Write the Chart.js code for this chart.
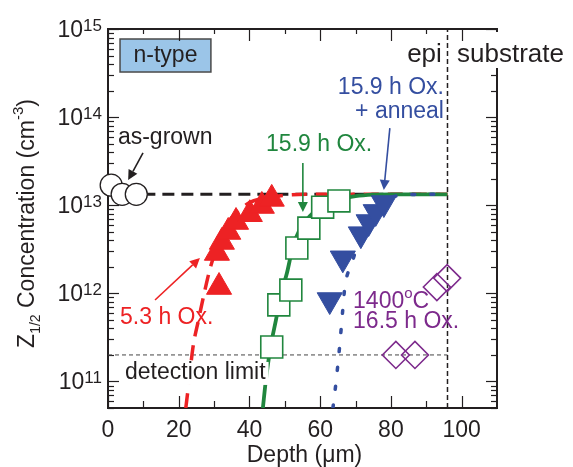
<!DOCTYPE html>
<html lang="en">
<head>
<meta charset="UTF-8">
<title>Z1/2 depth profiles</title>
<script src="https://cdn.jsdelivr.net/npm/chart.js"></script>
<style>
  html, body { margin: 0; padding: 0; background: #fff; }
  canvas { display: block; }
</style>
</head>
<body>
<canvas id="profileChart" width="573" height="467"></canvas>
<script>
// depth in um, Z1/2 concentration in cm^-3

// as-grown
const asGrownDepth = [0.9, 4.0, 8.0];
const asGrownConc = [1.69e13, 1.33e13, 1.33e13];
const asGrownFitDepth = [10, 96];
const asGrownFitConc = [1.33e13, 1.33e13];

// 5.3 h oxidation
const ox53Depth = [31.4, 30.8, 32.2, 34.0, 36.2, 40.1, 43.5, 46.3];
const ox53Conc = [1.18e12, 2.87e12, 3.83e12, 4.97e12, 6.45e12, 7.9e12, 9.8e12, 1.18e13];
const ox53FitDepth = [22.0, 22.9, 24.0, 25.6, 27.2, 29.0, 31.0, 33.0, 35.0, 37.5, 40.0, 44.0, 50.0, 56.0, 96.0];
const ox53FitConc = [5e10, 1e11, 2.4e11, 5e11, 1e12, 2e12, 3.5e12, 5.5e12, 7.3e12, 9e12, 1.07e13, 1.2e13, 1.3e13, 1.33e13, 1.33e13];

// 15.9 h oxidation
const ox159Depth = [46.3, 48.3, 51.7, 53.4, 56.8, 60.7, 65.3];
const ox159Conc = [2.46e11, 7.4e11, 1.09e12, 3.27e12, 5.5e12, 9.5e12, 1.12e13];
const ox159FitDepth = [43.8, 44.6, 46.0, 47.5, 49.0, 50.6, 52.3, 54.2, 57.0, 62.0, 66.0, 70.0, 75.0, 80.0, 96.0];
const ox159FitConc = [5e10, 1e11, 2.5e11, 5e11, 1e12, 1.7e12, 3.4e12, 5.3e12, 7.5e12, 1.03e13, 1.18e13, 1.27e13, 1.32e13, 1.33e13, 1.33e13];

// 15.9 h oxidation + anneal
const annDepth = [62.7, 66.4, 71.5, 73.7, 75.7, 78.0];
const annConc = [8.4e11, 2.5e12, 4.7e12, 6.45e12, 8.4e12, 1.06e13];
const annFitDepth = [63.6, 64.4, 65.5, 66.4, 67.0, 69.0, 71.2, 74.0, 76.0, 78.5, 81.0, 85.0, 96.0];
const annFitConc = [5e10, 9.2e10, 2.5e11, 6.6e11, 1.2e12, 2.2e12, 4.4e12, 7.5e12, 9.5e12, 1.15e13, 1.26e13, 1.32e13, 1.33e13];

// 1400 C, 16.5 h oxidation
const ox1400Depth = [93.0, 95.9, 81.4, 86.8];
const ox1400Conc = [1.18e12, 1.49e12, 2.0e11, 2.0e11];

// detection limit and epi/substrate interface
const detDepth = [0, 96];
const detConc = [2e11, 2e11];
const interfaceDepth = [96, 96];
const interfaceConc = [5e10, 1e15];

// axis ticks
const xTickValues = [0, 20, 40, 60, 80, 100];
const yTickExps = [11, 12, 13, 14, 15];

const ink = '#231f20';
const red = 'rgb(237,34,36)';
const green = 'rgb(32,134,62)';
const blue = 'rgb(52,78,160)';
const purple = 'rgb(125,42,140)';
const font = size => size + "px 'Liberation Sans', Arial, Helvetica, sans-serif";

function pts(xs, ys) {
  return xs.map((v, i) => ({ x: v, y: ys[i] }));
}

function curve(xs, ys, color, width, dash, order, cap) {
  return {
    data: pts(xs, ys), showLine: true, pointRadius: 0, pointHoverRadius: 0,
    borderColor: color, borderWidth: width, borderDash: dash,
    borderCapStyle: cap || 'butt', cubicInterpolationMode: 'monotone',
    fill: false, order: order
  };
}

function straight(xs, ys, color, width, dash, order) {
  return {
    data: pts(xs, ys), showLine: true, pointRadius: 0, pointHoverRadius: 0,
    borderColor: color, borderWidth: width, borderDash: dash, tension: 0,
    fill: false, order: order
  };
}

function markers(xs, ys, style, radius, fill, stroke, lw, order, rotation) {
  return {
    data: pts(xs, ys), showLine: false, pointStyle: style,
    pointRadius: radius, pointHoverRadius: radius,
    pointBackgroundColor: fill, pointBorderColor: stroke,
    pointBorderWidth: lw, pointRotation: rotation || 0,
    clip: false, order: order
  };
}

// text notes, positioned in data units
const notes = [
  { text: 'as-grown', x: 2.8, y: 5.9e13, color: ink, align: 'left' },
  { text: '5.3 h Ox.', x: 3.4, y: 5.25e11, color: red, align: 'left' },
  { text: '15.9 h Ox.', x: 44.7, y: 4.83e13, color: green, align: 'left' },
  { text: '15.9 h Ox.', x: 95.0, y: 2.14e14, color: blue, align: 'right' },
  { text: '+ anneal', x: 95.0, y: 1.14e14, color: blue, align: 'right' },
  { text: '16.5 h Ox.', x: 69.3, y: 4.73e11, color: purple, align: 'left' },
  { text: 'epi', x: 94.4, y: 5.07e14, color: ink, align: 'right', size: 26 }
];

const arrows = [
  { from: [9.9, 3.92e13], to: [5.7, 1.93e13], color: ink },
  { from: [13.3, 8.4e11], to: [26.0, 2.52e12], color: red },
  { from: [55.1, 3.01e13], to: [55.1, 8.37e12], color: green },
  { from: [79.7, 7.5e13], to: [78.0, 1.49e13], color: blue }
];

function drawRich(ctx, parts, x, y, align) {
  let w = 0;
  parts.forEach(p => { ctx.font = font(p[1]); w += ctx.measureText(p[0]).width; });
  let cx = align === 'right' ? x - w : align === 'center' ? x - w / 2 : x;
  parts.forEach(p => {
    ctx.font = font(p[1]);
    ctx.fillText(p[0], cx, y + (p[2] || 0));
    cx += ctx.measureText(p[0]).width;
  });
}

function drawArrow(ctx, x1, y1, x2, y2, color) {
  const ang = Math.atan2(y2 - y1, x2 - x1);
  const len = 10, half = 5;
  ctx.strokeStyle = color;
  ctx.fillStyle = color;
  ctx.lineWidth = 1.6;
  ctx.beginPath();
  ctx.moveTo(x1, y1);
  ctx.lineTo(x2 - Math.cos(ang) * len, y2 - Math.sin(ang) * len);
  ctx.stroke();
  ctx.beginPath();
  ctx.moveTo(x2, y2);
  ctx.lineTo(x2 - Math.cos(ang) * len - Math.sin(ang) * half, y2 - Math.sin(ang) * len + Math.cos(ang) * half);
  ctx.lineTo(x2 - Math.cos(ang) * len + Math.sin(ang) * half, y2 - Math.sin(ang) * len - Math.cos(ang) * half);
  ctx.closePath();
  ctx.fill();
}

function hline(ctx, x1, y1, x2, y2) {
  ctx.beginPath();
  ctx.moveTo(x1, y1);
  ctx.lineTo(x2, y2);
  ctx.stroke();
}

// frame and inward ticks go under the markers,
// labels and notes go on top
const decorations = {
  id: 'decorations',
  beforeDatasetsDraw(chart) {
    const { ctx, chartArea: a, scales: { x, y } } = chart;
    ctx.save();
    ctx.strokeStyle = ink;
    ctx.lineWidth = 2;
    ctx.strokeRect(a.left, a.top, a.right - a.left, a.bottom - a.top);

    ctx.lineWidth = 1.2;
    for (let e = 10; e <= 15; e++) {
      for (let m = 1; m <= 9; m++) {
        const v = m * Math.pow(10, e);
        if (v < y.min * 0.999 || v > y.max * 1.001) continue;
        const p = Math.round(y.getPixelForValue(v)) + 0.5;
        const len = m === 1 ? 11 : 6;
        hline(ctx, a.left, p, a.left + len, p);
        hline(ctx, a.right, p, a.right - len, p);
      }
    }
    for (let v = 0; v <= 100; v += 10) {
      const p = Math.round(x.getPixelForValue(v)) + 0.5;
      hline(ctx, p, a.bottom, p, a.bottom - (v % 20 === 0 ? 12 : 7));
    }
    ctx.restore();
  },
  afterDatasetsDraw(chart) {
    const { ctx, chartArea: a, scales: { x, y } } = chart;
    ctx.save();
    ctx.setLineDash([]);

    // tick labels
    ctx.fillStyle = ink;
    ctx.textBaseline = 'alphabetic';
    ctx.textAlign = 'left';
    xTickValues.forEach(v => {
      drawRich(ctx, [[String(v), 23, 0]], x.getPixelForValue(v), a.bottom + 29, 'center');
    });
    yTickExps.forEach(e => {
      const p = y.getPixelForValue(Math.pow(10, e));
      drawRich(ctx, [['10', 23, 0], [String(e), 17, -6]], a.left - 6, p + 8, 'right');
    });

    // axis titles
    drawRich(ctx, [['Depth (\u03bcm)', 23, 0]], (a.left + a.right) / 2 + 2, a.bottom + 54, 'center');
    ctx.save();
    ctx.translate(34, (a.top + a.bottom) / 2 + 5);
    ctx.rotate(-Math.PI / 2);
    drawRich(ctx, [['Z', 23, 0], ['1/2', 14, 6], [' Concentration (cm', 23, 0], ['-3', 15, -11], [')', 23, 0]], 0, 0, 'center');
    ctx.restore();

    // n-type box
    const bx1 = x.getPixelForValue(3.4), bx2 = x.getPixelForValue(29.1);
    const by1 = y.getPixelForValue(7.7e14), by2 = y.getPixelForValue(3.25e14);
    ctx.fillStyle = 'rgb(155,197,232)';
    ctx.fillRect(bx1, by1, bx2 - bx1, by2 - by1);
    ctx.strokeStyle = '#4a4a4a';
    ctx.lineWidth = 1.5;
    ctx.strokeRect(bx1, by1, bx2 - bx1, by2 - by1);
    ctx.fillStyle = ink;
    ctx.textBaseline = 'middle';
    ctx.textAlign = 'center';
    ctx.font = font(23);
    ctx.fillText('n-type', (bx1 + bx2) / 2, (by1 + by2) / 2);

    // detection limit label on white
    ctx.textAlign = 'left';
    const dlx = x.getPixelForValue(4.8), dly = y.getPixelForValue(1.25e11);
    const dlw = ctx.measureText('detection limit').width;
    ctx.fillStyle = '#fff';
    ctx.fillRect(dlx - 3, dly - 11, dlw + 6, 23);
    ctx.fillStyle = ink;
    ctx.fillText('detection limit', dlx, dly);

    // substrate label on white, then the top ticks over it
    ctx.font = font(26);
    const sx = x.getPixelForValue(98.7), sy = y.getPixelForValue(5.07e14);
    ctx.fillStyle = '#fff';
    ctx.fillRect(sx - 3, sy - 23, chart.width - sx + 3, 36);
    ctx.fillStyle = ink;
    ctx.fillText('substrate', sx, sy);
    ctx.strokeStyle = ink;
    ctx.lineWidth = 1.2;
    for (let v = 0; v <= 100; v += 10) {
      const p = Math.round(x.getPixelForValue(v)) + 0.5;
      hline(ctx, p, a.top, p, a.top + (v % 20 === 0 ? 12 : 5));
    }

    // other notes
    notes.forEach(n => {
      ctx.font = font(n.size || 23);
      ctx.fillStyle = n.color;
      ctx.textAlign = n.align;
      ctx.fillText(n.text, x.getPixelForValue(n.x), y.getPixelForValue(n.y));
    });
    ctx.textAlign = 'left';
    ctx.textBaseline = 'alphabetic';
    ctx.fillStyle = purple;
    drawRich(ctx, [['1400', 23, 0], ['o', 15, -10], ['C', 23, 0]],
      x.getPixelForValue(69.3), y.getPixelForValue(8.4e11) + 8, 'left');

    arrows.forEach(ar => {
      drawArrow(ctx,
        x.getPixelForValue(ar.from[0]), y.getPixelForValue(ar.from[1]),
        x.getPixelForValue(ar.to[0]), y.getPixelForValue(ar.to[1]), ar.color);
    });
    ctx.restore();
  }
};

const ctx = document.getElementById('profileChart').getContext('2d');
new Chart(ctx, {
  type: 'scatter',
  data: {
    datasets: [
      straight(detDepth, detConc, '#444', 1, [4, 3], 20),
      straight(interfaceDepth, interfaceConc, ink, 1.5, [5, 3], 19),
      straight(asGrownFitDepth, asGrownFitConc, ink, 3, [12, 7], 18),
      curve(ox53FitDepth, ox53FitConc, red, 3.5, [15, 9], 17),
      curve(ox159FitDepth, ox159FitConc, green, 3.8, [], 16),
      curve(annFitDepth, annFitConc, blue, 3.5, [3, 16], 15, 'round'),
      markers(asGrownDepth, asGrownConc, 'circle', 11, '#fff', ink, 1.3, 10),
      markers(ox53Depth, ox53Conc, 'triangle', 14.5, red, red, 1, 9),
      markers(ox159Depth, ox159Conc, 'rect', 15.5, '#fff', green, 1.6, 8),
      markers(annDepth, annConc, 'triangle', 14.5, blue, blue, 1, 7, 180),
      markers(ox1400Depth, ox1400Conc, 'rectRot', 13.5, 'rgba(0,0,0,0)', purple, 1.6, 6)
    ]
  },
  options: {
    responsive: false,
    animation: false,
    devicePixelRatio: 1,
    layout: { padding: { left: 108, top: 29, right: 76, bottom: 59 } },
    plugins: { legend: { display: false }, tooltip: { enabled: false } },
    events: [],
    scales: {
      x: { type: 'linear', min: 0, max: 110, display: false },
      y: { type: 'logarithmic', min: 5e10, max: 1e15, display: false }
    }
  },
  plugins: [decorations]
});
</script>
</body>
</html>
